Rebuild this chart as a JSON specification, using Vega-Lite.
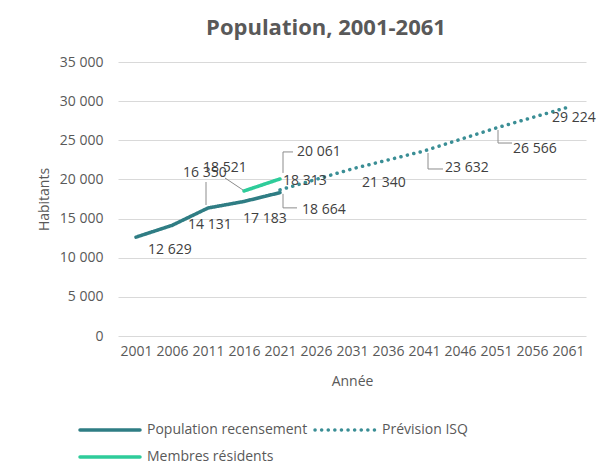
{
  "$schema": "https://vega.github.io/schema/vega-lite/v6.json",
  "autosize": {"type": "none"},
  "width": 468,
  "height": 274,
  "padding": {"top": 62, "left": 118, "right": 20, "bottom": 133},
  "background": "#ffffff",
  "title": {
    "text": "Population, 2001-2061",
    "font": "Open Sans",
    "fontSize": 22,
    "fontWeight": "bold",
    "color": "#595959",
    "anchor": "middle",
    "frame": "group",
    "dx": -26,
    "offset": 15
  },
  "datasets": {
    "pop": [
      {"series": "Population recensement", "year": 2001, "value": 12629},
      {"series": "Population recensement", "year": 2006, "value": 14131},
      {"series": "Population recensement", "year": 2011, "value": 16350},
      {"series": "Population recensement", "year": 2016, "value": 17183},
      {"series": "Population recensement", "year": 2021, "value": 18313},
      {"series": "Membres résidents", "year": 2016, "value": 18521},
      {"series": "Membres résidents", "year": 2021, "value": 20061},
      {"series": "Prévision ISQ", "year": 2021, "value": 18664},
      {"series": "Prévision ISQ", "year": 2031, "value": 21340},
      {"series": "Prévision ISQ", "year": 2041, "value": 23632},
      {"series": "Prévision ISQ", "year": 2051, "value": 26566},
      {"series": "Prévision ISQ", "year": 2061, "value": 29224}
    ]
  },
  "data": {"name": "pop"},
  "encoding": {
    "x": {
      "field": "year", "type": "ordinal",
      "scale": {"type": "point", "padding": 0.5, "domain": [2001, 2006, 2011, 2016, 2021, 2026, 2031, 2036, 2041, 2046, 2051, 2056, 2061]},
      "axis": {"title": "Année", "labelAngle": 0, "domain": false, "ticks": false, "labelPadding": 8, "titlePadding": 16}
    },
    "y": {
      "field": "value", "type": "quantitative",
      "scale": {"domain": [0, 35000], "nice": false},
      "axis": {"title": "Habitants", "values": [0, 5000, 10000, 15000, 20000, 25000, 30000, 35000], "labelExpr": "format(datum.value, ',')", "domain": false, "ticks": false, "grid": true, "labelPadding": 15, "titlePadding": 8}
    }
  },
  "layer": [
    {
      "mark": {"type": "line", "strokeWidth": 3.5, "strokeCap": "round", "strokeJoin": "round"},
      "encoding": {
        "color": {
          "field": "series", "type": "nominal",
          "scale": {"domain": ["Population recensement", "Prévision ISQ", "Membres résidents"], "range": ["#2f7d84", "#3a8e95", "#2ecc9a"]},
          "legend": {
            "title": null, "orient": "none", "legendX": -10, "legendY": 351, "direction": "horizontal", "columns": 2,
            "symbolType": "M-3,0H1", "symbolSize": 900, "symbolStrokeWidth": 3.5, "labelOffset": 5,
            "columnPadding": 0, "rowPadding": 3, "padding": 0, "labelLimit": 400,
            "labelFont": "Open Sans", "labelFontSize": 14, "labelColor": "#595959",
            "encode": {"symbols": {"update": {"strokeCap": {"value": "round"}}}}
          }
        },
        "strokeDash": {
          "field": "series", "type": "nominal",
          "scale": {"domain": ["Population recensement", "Prévision ISQ", "Membres résidents"], "range": [[1, 0], [0.1, 6.5], [1, 0]]},
          "legend": null
        }
      }
    },
    {
      "transform": [{"filter": "datum.series == 'Population recensement' && datum.year == 2001"}],
      "mark": {"type": "text", "align": "left", "baseline": "middle", "dx": 12, "dy": 13},
      "encoding": {"text": {"field": "value", "type": "quantitative", "format": ","}}
    },
    {
      "transform": [{"filter": "datum.series == 'Population recensement' && datum.year == 2006"}],
      "mark": {"type": "text", "align": "left", "baseline": "middle", "dx": 16, "dy": 0},
      "encoding": {"text": {"field": "value", "type": "quantitative", "format": ","}}
    },
    {
      "transform": [{"filter": "datum.series == 'Population recensement' && datum.year == 2011"}],
      "mark": {"type": "text", "align": "left", "baseline": "middle", "dx": -25, "dy": -35},
      "encoding": {"text": {"field": "value", "type": "quantitative", "format": ","}}
    },
    {
      "transform": [{"filter": "datum.series == 'Population recensement' && datum.year == 2016"}],
      "mark": {"type": "text", "align": "left", "baseline": "middle", "dx": -1, "dy": 18},
      "encoding": {"text": {"field": "value", "type": "quantitative", "format": ","}}
    },
    {
      "transform": [{"filter": "datum.series == 'Population recensement' && datum.year == 2021"}],
      "mark": {"type": "text", "align": "left", "baseline": "middle", "dx": 3, "dy": -12},
      "encoding": {"text": {"field": "value", "type": "quantitative", "format": ","}}
    },
    {
      "transform": [{"filter": "datum.series == 'Membres résidents' && datum.year == 2016"}],
      "mark": {"type": "text", "align": "left", "baseline": "middle", "dx": -41, "dy": -23},
      "encoding": {"text": {"field": "value", "type": "quantitative", "format": ","}}
    },
    {
      "transform": [{"filter": "datum.series == 'Membres résidents' && datum.year == 2021"}],
      "mark": {"type": "text", "align": "left", "baseline": "middle", "dx": 17, "dy": -27},
      "encoding": {"text": {"field": "value", "type": "quantitative", "format": ","}}
    },
    {
      "transform": [{"filter": "datum.series == 'Prévision ISQ' && datum.year == 2021"}],
      "mark": {"type": "text", "align": "left", "baseline": "middle", "dx": 22, "dy": 20},
      "encoding": {"text": {"field": "value", "type": "quantitative", "format": ","}}
    },
    {
      "transform": [{"filter": "datum.series == 'Prévision ISQ' && datum.year == 2031"}],
      "mark": {"type": "text", "align": "left", "baseline": "middle", "dx": 10, "dy": 14},
      "encoding": {"text": {"field": "value", "type": "quantitative", "format": ","}}
    },
    {
      "transform": [{"filter": "datum.series == 'Prévision ISQ' && datum.year == 2041"}],
      "mark": {"type": "text", "align": "left", "baseline": "middle", "dx": 21, "dy": 17},
      "encoding": {"text": {"field": "value", "type": "quantitative", "format": ","}}
    },
    {
      "transform": [{"filter": "datum.series == 'Prévision ISQ' && datum.year == 2051"}],
      "mark": {"type": "text", "align": "left", "baseline": "middle", "dx": 17, "dy": 21},
      "encoding": {"text": {"field": "value", "type": "quantitative", "format": ","}}
    },
    {
      "transform": [{"filter": "datum.series == 'Prévision ISQ' && datum.year == 2061"}],
      "mark": {"type": "text", "align": "left", "baseline": "middle", "dx": -16, "dy": 11},
      "encoding": {"text": {"field": "value", "type": "quantitative", "format": ","}}
    },
    {
      "transform": [{"filter": "datum.series == 'Population recensement' && datum.year == 2011"}],
      "mark": {"type": "rule", "xOffset": -2, "yOffset": -26, "y2Offset": -3},
      "encoding": {"y2": {"field": "value"}}
    },
    {
      "transform": [{"filter": "datum.series == 'Membres résidents' && datum.year == 2016"}],
      "mark": {"type": "rule", "xOffset": -19, "x2Offset": -1, "yOffset": -13, "y2Offset": -1},
      "encoding": {"x2": {"field": "year"}, "y2": {"field": "value"}}
    },
    {
      "transform": [{"filter": "datum.series == 'Membres résidents' && datum.year == 2021"}],
      "mark": {"type": "rule", "xOffset": 3, "yOffset": -6, "y2Offset": -27},
      "encoding": {"y2": {"field": "value"}}
    },
    {
      "transform": [{"filter": "datum.series == 'Membres résidents' && datum.year == 2021"}],
      "mark": {"type": "rule", "xOffset": 3, "x2Offset": 13, "yOffset": -27},
      "encoding": {"x2": {"field": "year"}}
    },
    {
      "transform": [{"filter": "datum.series == 'Prévision ISQ' && datum.year == 2021"}],
      "mark": {"type": "rule", "xOffset": 3, "yOffset": 4, "y2Offset": 18},
      "encoding": {"y2": {"field": "value"}}
    },
    {
      "transform": [{"filter": "datum.series == 'Prévision ISQ' && datum.year == 2021"}],
      "mark": {"type": "rule", "xOffset": 3, "x2Offset": 17, "yOffset": 18},
      "encoding": {"x2": {"field": "year"}}
    },
    {
      "transform": [{"filter": "datum.series == 'Prévision ISQ' && datum.year == 2041"}],
      "mark": {"type": "rule", "xOffset": 4, "yOffset": 2, "y2Offset": 18},
      "encoding": {"y2": {"field": "value"}}
    },
    {
      "transform": [{"filter": "datum.series == 'Prévision ISQ' && datum.year == 2041"}],
      "mark": {"type": "rule", "xOffset": 4, "x2Offset": 19, "yOffset": 18},
      "encoding": {"x2": {"field": "year"}}
    },
    {
      "transform": [{"filter": "datum.series == 'Prévision ISQ' && datum.year == 2051"}],
      "mark": {"type": "rule", "xOffset": 2, "yOffset": 2, "y2Offset": 15},
      "encoding": {"y2": {"field": "value"}}
    },
    {
      "transform": [{"filter": "datum.series == 'Prévision ISQ' && datum.year == 2051"}],
      "mark": {"type": "rule", "xOffset": 2, "x2Offset": 16, "yOffset": 15},
      "encoding": {"x2": {"field": "year"}}
    }
  ],
  "config": {
    "locale": {"number": {"decimal": ",", "thousands": " ", "grouping": [3], "currency": ["", " $"]}},
    "view": {"stroke": null},
    "font": "Open Sans",
    "text": {"font": "Open Sans", "fontSize": 14, "fill": "#404040"},
    "rule": {"stroke": "#8c8c8c", "strokeWidth": 1},
    "axis": {
      "labelFont": "Open Sans", "labelFontSize": 14, "labelColor": "#595959",
      "titleFont": "Open Sans", "titleFontSize": 14, "titleFontWeight": "normal", "titleColor": "#595959",
      "gridColor": "#d9d9d9", "gridWidth": 1
    }
  }
}
